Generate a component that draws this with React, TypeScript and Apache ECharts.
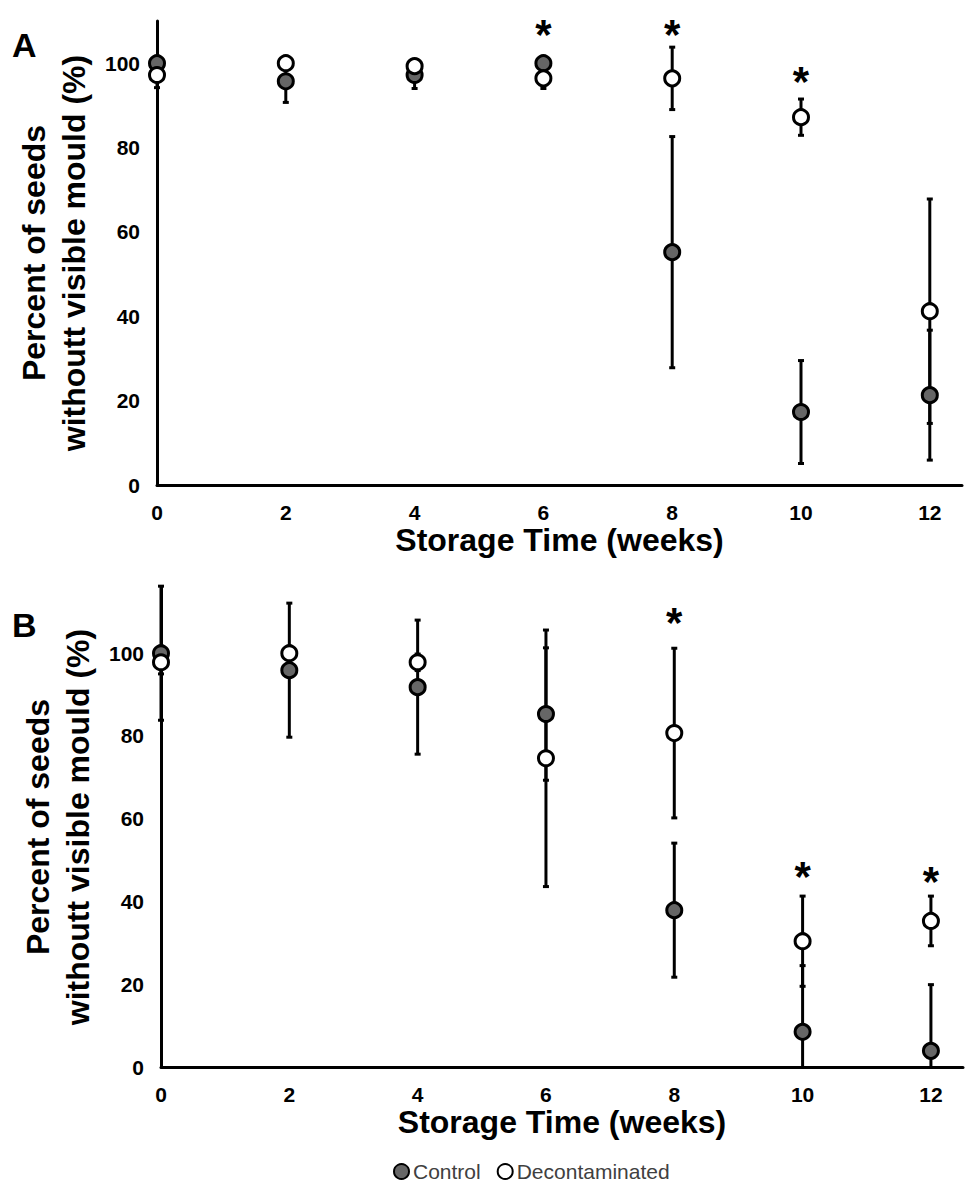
import React, { useEffect, useRef } from "react";
import * as echarts from "echarts";

const weeks = [0, 2, 4, 6, 8, 10, 12];
const xTickLabels = ["0", "2", "4", "6", "8", "10", "12"];

// Panel A
const controlA = [100, 95.7, 97.2, 100, 55.2, 17.3, 21.3];
const controlAErr = [0, 5, 3.2, 0, 27.4, 12.2, 15.4];
const decontA = [97.2, 100, 99.3, 96.4, 96.4, 87.2, 41.2];
const decontAErr = [3, 0, 1, 2.4, 7.4, 4.3, 26.6];
const starWeeksA = [6, 8, 10];
const starValuesA = [109.5, 109.5, 98.3];

// Panel B
const controlB = [100, 95.9, 91.8, 85.3, 37.9, 8.5, 3.9];
const controlBErr = [16.2, 16.2, 16.2, 16, 16.2, 16, 16];
const decontB = [97.8, 100, 97.8, 74.6, 80.7, 30.4, 35.3];
const decontBErr = [2.8, 0, 2, 31, 20.5, 10.9, 6];
const starWeeksB = [8, 10, 12];
const starValuesB = [110, 48.8, 47.6];

const FONT = 'Arial, "Liberation Sans", sans-serif';
const CONTROL_FILL = "#666666";
const DECONT_FILL = "#ffffff";

function errData(means: number[], errs: number[]) {
  return weeks.map((w, i) => [w, means[i] - errs[i], means[i] + errs[i], errs[i]]);
}

function errorSeries(idx: number, means: number[], errs: number[]) {
  return {
    type: "custom",
    xAxisIndex: idx,
    yAxisIndex: idx,
    silent: true,
    z: 2,
    clip: false,
    encode: { x: 0, y: [1, 2] },
    data: errData(means, errs),
    renderItem: (params: any, api: any) => {
      const x = api.value(0);
      const loRaw = api.value(1);
      const hi = api.value(2);
      const e = api.value(3);
      if (!(e > 0)) return { type: "group", children: [] };
      const lo = Math.max(0, loRaw);
      const pTop = api.coord([x, hi]);
      const pBot = api.coord([x, lo]);
      const children: any[] = [
        {
          type: "line",
          shape: { x1: pTop[0], y1: pTop[1], x2: pBot[0], y2: pBot[1] },
          style: { stroke: "#000", lineWidth: 3 },
        },
        {
          type: "rect",
          shape: { x: pTop[0] - 3, y: pTop[1] - 1.5, width: 6, height: 3 },
          style: { fill: "#000" },
        },
      ];
      if (loRaw >= 0) {
        children.push({
          type: "rect",
          shape: { x: pBot[0] - 3, y: pBot[1] - 1.5, width: 6, height: 3 },
          style: { fill: "#000" },
        });
      }
      return { type: "group", children };
    },
  };
}

function pointSeries(idx: number, name: string, means: number[], fill: string, z: number) {
  return {
    type: "scatter",
    name,
    xAxisIndex: idx,
    yAxisIndex: idx,
    clip: false,
    z,
    symbol: "circle",
    symbolSize: 15,
    itemStyle: { color: fill, borderColor: "#000", borderWidth: 3, opacity: 1 },
    data: weeks.map((w, i) => [w, means[i]]),
  };
}

function starSeries(idx: number, xs: number[], ys: number[]) {
  return {
    type: "scatter",
    xAxisIndex: idx,
    yAxisIndex: idx,
    silent: true,
    clip: false,
    symbolSize: 0,
    z: 5,
    itemStyle: { opacity: 1, color: "#000" },
    label: {
      show: true,
      position: "inside",
      formatter: "*",
      fontSize: 42,
      fontWeight: "bold",
      fontFamily: FONT,
      color: "#000",
      opacity: 1,
      textBorderWidth: 0,
      textBorderColor: "transparent",
      offset: [0, 11],
    },
    data: xs.map((x, i) => [x, ys[i]]),
  };
}

function xAxisCfg(idx: number) {
  return {
    type: "value",
    gridIndex: idx,
    min: 0,
    max: 12.5,
    interval: 2,
    name: "Storage Time (weeks)",
    nameLocation: "middle",
    nameGap: 39,
    nameTextStyle: { fontSize: 32, fontWeight: "bold", fontFamily: FONT, color: "#000" },
    axisLine: { show: true, onZero: false, lineStyle: { color: "#000", width: 3 } },
    axisTick: { show: false },
    splitLine: { show: false },
    axisLabel: {
      fontSize: 21,
      fontWeight: "bold",
      fontFamily: FONT,
      color: "#000",
      margin: 17,
      formatter: (v: number) => (xTickLabels.indexOf(String(v)) >= 0 ? String(v) : ""),
    },
  };
}

function yAxisCfg(idx: number, max: number) {
  return {
    type: "value",
    gridIndex: idx,
    min: 0,
    max,
    interval: 20,
    name: "Percent of seeds\nwithoutt visible mould (%)",
    nameLocation: "middle",
    nameGap: 60,
    nameTextStyle: {
      fontSize: 32,
      fontWeight: "bold",
      fontFamily: FONT,
      color: "#000",
      lineHeight: 40,
    },
    axisLine: { show: true, onZero: false, lineStyle: { color: "#000", width: 3 } },
    axisTick: { show: false },
    splitLine: { show: false },
    axisLabel: {
      fontSize: 21,
      fontWeight: "bold",
      fontFamily: FONT,
      color: "#000",
      margin: 17,
      formatter: (v: number) => (v % 20 === 0 ? String(v) : ""),
    },
  };
}

export default function App() {
  const ref = useRef<HTMLDivElement>(null);
  useEffect(() => {
    document.body.style.margin = "0";
    const chart = echarts.init(ref.current!, null, { renderer: "svg" });
    chart.setOption({
      animation: false,
      backgroundColor: "#fff",
      grid: [
        { left: 157, top: 21, width: 805, height: 464 },
        { left: 161, top: 587, width: 804, height: 480 },
      ],
      xAxis: [xAxisCfg(0), xAxisCfg(1)],
      yAxis: [yAxisCfg(0, 110), yAxisCfg(1, 116)],
      legend: {
        left: 388,
        top: 1156,
        itemWidth: 15,
        itemHeight: 15,
        itemGap: 16,
        icon: "circle",
        textStyle: { fontSize: 21, color: "#404040", fontFamily: FONT, padding: [0, 0, 0, -1] },
        data: ["Control", "Decontaminated"],
      },
      graphic: [
        {
          type: "text",
          left: 12,
          top: 28,
          style: { text: "A", font: `bold 34px ${FONT}`, fill: "#000" },
        },
        {
          type: "text",
          left: 12,
          top: 608,
          style: { text: "B", font: `bold 34px ${FONT}`, fill: "#000" },
        },
      ],
      series: [
        errorSeries(0, controlA, controlAErr),
        errorSeries(0, decontA, decontAErr),
        pointSeries(0, "Control", controlA, CONTROL_FILL, 3),
        pointSeries(0, "Decontaminated", decontA, DECONT_FILL, 4),
        starSeries(0, starWeeksA, starValuesA),
        errorSeries(1, controlB, controlBErr),
        errorSeries(1, decontB, decontBErr),
        pointSeries(1, "Control", controlB, CONTROL_FILL, 3),
        pointSeries(1, "Decontaminated", decontB, DECONT_FILL, 4),
        starSeries(1, starWeeksB, starValuesB),
      ],
    });
    return () => chart.dispose();
  }, []);
  return <div ref={ref} style={{ width: 966, height: 1182 }} />;
}
